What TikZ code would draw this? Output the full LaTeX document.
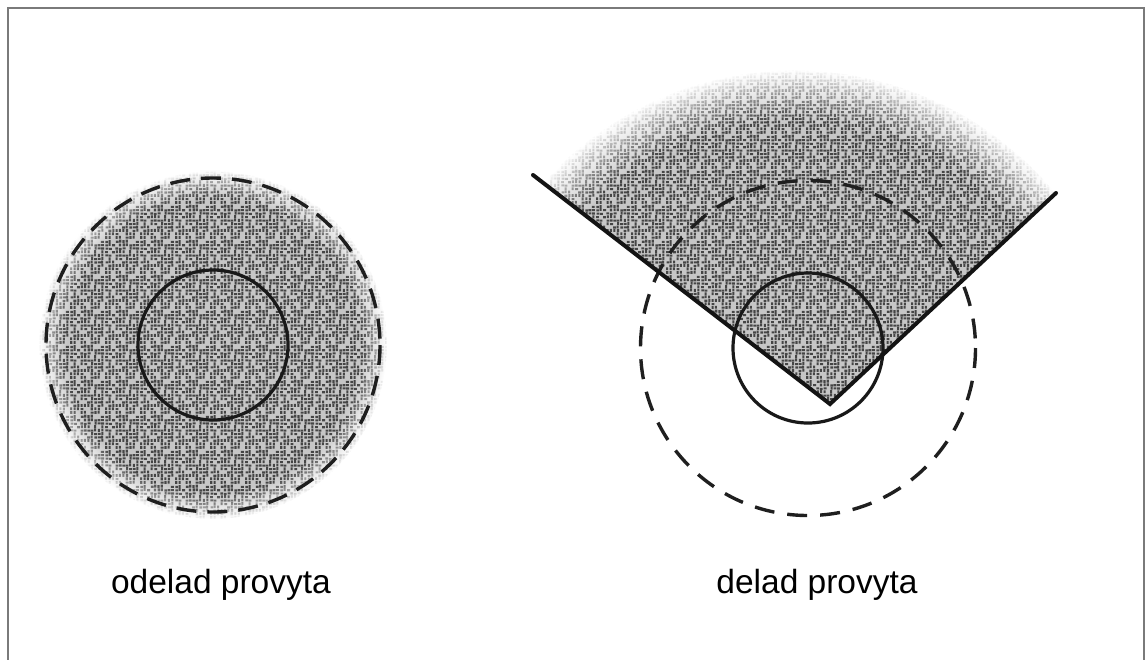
\documentclass[tikz,border=0pt]{standalone}
\usepackage{fontspec}
\setmainfont{Liberation Sans}
\usetikzlibrary{calc,fadings,patterns}
\definecolor{grainfill}{HTML}{C6C6C6}
\definecolor{graindot}{HTML}{383838}
\definecolor{framegray}{HTML}{7A7A7A}

\pgfdeclareradialshading{grain}{\pgfpoint{0bp}{0bp}}{%
  color(0bp)=(grainfill); color(21bp)=(grainfill); color(25bp)=(white); color(50bp)=(white)}

% speckle tile for the grainy fill (jittered grid)
\pgfdeclarepatternformonly{speckle}{\pgfqpoint{0bp}{0bp}}{\pgfqpoint{35bp}{35bp}}{\pgfqpoint{35bp}{35bp}}{%
  \pgfmathsetseed{42}%
  \foreach \i in {0,...,9}{%
    \foreach \j in {0,...,9}{%
      \pgfmathparse{rnd<0.82 ? 1 : 0}%
      \ifdim\pgfmathresult pt>0.5pt
        \pgfmathsetmacro\px{\i*3.5+rnd*0.6}%
        \pgfmathsetmacro\py{\j*3.5+rnd*0.6}%
        \pgfmathsetmacro\pw{rnd<0.5 ? 2.9 : 2.1}%
        \pgfmathsetmacro\ph{\pw>2.5 ? 2.1 : 2.9}%
        \pgfpathrectangle{\pgfpoint{\px bp}{\py bp}}{\pgfpoint{\pw bp}{\ph bp}}%
        \pgfusepath{fill}%
      \fi
    }%
  }%
}

\begin{document}
\begin{tikzpicture}[x=1pt, y=-1pt,
  font=\fontsize{33.5}{40}\selectfont,
  ring/.style={draw=black!90, line width=3.2pt},
  dashring/.style={draw=black!88, line width=3.4pt, dash pattern=on 20pt off 11pt},
  wedgeline/.style={draw=black!92, line width=4pt, line cap=round},
  grainy/.style={pattern=speckle, pattern color=graindot,
               path fading=circle with fuzzy edge 15 percent},
  lbl/.style={anchor=base}
]
\useasboundingbox (0,0) rectangle (1147,659);
% frame
\draw[framegray, line width=1.5pt] (8,670) -- (8,8) -- (1144,8) -- (1144,670);

% left: undivided area
\coordinate (lc) at (213,345);
\shade[shading=grain] (lc) circle (174);
\fill[grainy, opacity=0.9] (lc) circle (174);
\draw[dashring] (lc) circle (167);
\draw[ring] (lc) circle (75);
\node[lbl] (lbl1) at (221,593) {odelad provyta};

% right: divided area
\coordinate (apex) at (830,404);
\coordinate (lend) at (533,175);
\coordinate (rend) at (1056,193);
\coordinate (rc) at (808,348);
\coordinate (sc) at (795,408);
\begin{scope}
  \clip (apex) -- ($(apex)!1.8!(lend)$) -- ++(0,-500) -| ($(apex)!2!(rend)$) -- cycle;
  \shade[shading=grain] (sc) circle (338);
  \fill[grainy, opacity=0.9] (sc) circle (338);
\end{scope}
\draw[dashring, dash pattern=on 20pt off 13pt] (rc) circle (167.5);
\draw[ring] (rc) circle (75);
\draw[wedgeline] (lend) -- (apex) -- (rend);
\node[lbl] (lbl2) at (817,593) {delad provyta};
\end{tikzpicture}
\end{document}
